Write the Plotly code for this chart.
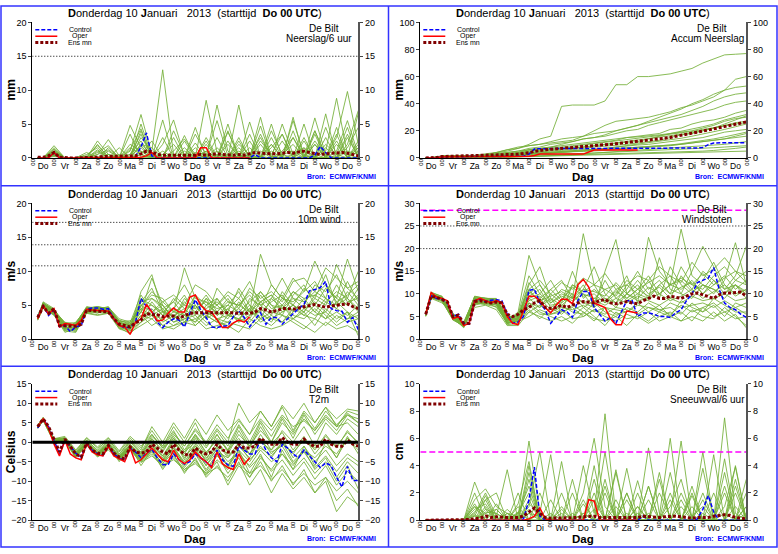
import plotly.graph_objects as go

W, H = 778, 554
FONT = "Liberation Sans, Arial, sans-serif"

day_names = ["Do", "Vr", "Za", "Zo", "Ma", "Di", "Wo", "Do", "Vr", "Za", "Zo", "Ma", "Di", "Wo", "Do"]
run_title = "<b>D</b>onderdag 10 <b>J</b>anuari   2013  (starttijd  <b>Do 00 UTC</b>)"
station = "De Bilt"
source = "Bron:  ECMWF/KNMI"
legend_names = ["Control", "Oper", "Ens mn"]

# lead time in days: 6-hourly for control / mean, oper up to day 10, members 12-hourly
lead_6h = [0.25 * (i + 1) for i in range(60)]
lead_oper = lead_6h[:40]
lead_members = [0.25] + [0.5 * (i + 1) for i in range(30)]

# ---------------- Neerslag / 6 uur (mm)
precip_control = [0, 0, 0, 0.8, 0, 0, 0, 0, 0, 0, 0, 0, 0, 0, 0, 0, 0, 0, 0.2, 1.6,
                  3.7, 0.3, 0, 0, 0, 0, 0, 0, 0, 0, 0, 0, 0, 0, 0, 0, 0, 0, 0, 0,
                  0.5, 0, 0, 0, 0, 0, 0, 0, 0, 0, 0, 0.4, 1.7, 0.8, 0, 0, 0, 0, 0, 0]
precip_oper = [0, 0, 0, 0.8, 0, 0, 0, 0, 0, 0, 0, 0, 0, 0, 0, 0, 0, 0, 0, 0.1,
               0.3, 0.8, 0, 0, 0, 0, 0, 0, 0, 0, 1.5, 1.5, 0, 0, 0, 0, 0, 0, 0, 0]
precip_mean = [0.1, 0.1, 0.3, 0.8, 0.1, 0, 0, 0, 0, 0, 0, 0.1, 0.2, 0.2, 0.3, 0.2,
               0.2, 0.2, 0.3, 0.6, 1.0, 0.9, 0.5, 0.4, 0.4, 0.3, 0.4, 0.4, 0.3, 0.4, 0.5, 0.4,
               0.5, 0.6, 0.5, 0.4, 0.4, 0.5, 0.4, 0.6, 0.8, 0.7, 0.6, 0.6, 0.6, 0.7, 0.8, 0.7,
               0.9, 1.0, 0.8, 0.6, 0.5, 0.6, 0.7, 0.8, 0.8, 0.7, 0.5, 0.3]
precip_members = [
    [0, 0, 1.8, 0, 0, 0, 2.5, 0.5, 0, 1.0, 6.4, 0.5, 0, 0, 1.5, 0, 3.0, 0.2, 0, 2.0, 0.5, 0, 4.0, 0.5, 1.0, 0, 2.5, 0.3, 3.0, 9.8, 2.0],
    [0, 0, 1.2, 0, 0, 0, 0.5, 2.7, 0.3, 0, 3.0, 1.0, 13.0, 0.5, 0, 0, 0, 1.5, 0, 0, 0.5, 3.0, 0.2, 0, 5.5, 0.5, 0, 1.0, 8.8, 0.5, 0],
    [0, 0, 0.6, 0, 0, 0.3, 1.8, 0.2, 0, 4.8, 1.5, 0, 2.0, 5.6, 0.2, 0, 8.5, 0.8, 0, 0.3, 0, 2.5, 0.5, 3.5, 0, 0, 4.0, 0.5, 0, 0, 6.6],
    [0, 0, 0.9, 0, 0, 0, 0, 1.5, 0, 0.5, 2.5, 0, 0, 1.0, 2.8, 0.5, 0, 7.8, 1.0, 0, 5.3, 0.2, 0, 0, 3.0, 0.3, 0, 2.0, 0.5, 4.5, 0],
    [0, 0, 0.3, 0, 0, 0, 1.0, 0, 0, 0, 5.0, 0.3, 0, 0, 0, 3.5, 0.5, 0, 0, 7.8, 0.3, 0, 1.0, 0, 6.0, 0, 3.5, 0, 0, 1.0, 0.5],
    [0, 0, 0.5, 0, 0, 0, 0, 0, 1.5, 0, 0.5, 0, 0, 4.0, 0.5, 0, 1.0, 0, 3.8, 0.5, 0, 0, 0, 5.0, 0.5, 1.5, 0, 0, 0, 2.0, 7.0],
    [0, 0, 1.0, 0, 0, 0.2, 0, 0.5, 0, 1.2, 4.3, 0, 0, 0.5, 0, 0, 0.3, 5.5, 0.3, 0, 0, 4.7, 0, 0, 0.5, 0, 5.9, 0.5, 0, 3.0, 0.2],
    [0, 0, 0.4, 0, 0, 0, 0, 0, 0, 0, 0.5, 2.5, 0, 0, 3.3, 0, 0, 0, 2.0, 0.3, 0, 0, 3.0, 0, 0, 5.0, 0, 0, 2.0, 0, 1.5],
    [0, 0, 0.7, 0, 0, 0, 0.5, 1.2, 0, 0, 1.0, 0, 5.6, 0, 0, 0.8, 0, 0, 5.0, 0, 0, 0.2, 2.0, 0, 0, 0, 0, 4.5, 0.5, 0, 0],
    [0, 0, 0.2, 0, 0, 0, 0, 0, 0, 3.5, 0, 0, 0, 0, 0, 2.2, 0, 0, 0, 1.0, 0, 6.0, 0, 0.5, 0, 2.5, 0, 0, 1.0, 5.5, 0.5],
    [0, 0, 0.5, 0, 0, 0, 0, 0, 0.3, 0, 0, 0, 0.5, 0, 0, 0, 0, 0.5, 0, 0, 1.5, 0, 0, 0, 0, 0, 0.5, 0, 0, 0, 0],
    [0, 0, 0.8, 0, 0, 0, 1.2, 0, 0, 0, 2.0, 0.5, 0, 0, 0, 0, 0, 0, 0, 3.0, 0, 0, 0, 0.5, 2.0, 0, 0, 6.5, 0, 0, 2.0],
    [0, 0, 1.5, 0, 0, 0.5, 1.5, 0, 0, 2.0, 1.0, 0, 3.0, 0, 2.5, 0, 1.0, 0, 4.0, 0, 2.5, 0, 1.5, 3.5, 0, 1.0, 0, 3.0, 0, 1.5, 4.5],
    [0, 0, 1.0, 0, 0, 0, 0.8, 1.8, 0, 0.5, 3.5, 0, 0.5, 2.0, 0, 4.5, 0, 1.0, 0, 2.5, 0, 3.5, 0, 0, 4.0, 0, 2.0, 0, 4.5, 0, 2.5],
    [0, 0, 0.6, 0, 0, 0.2, 0, 0, 0.5, 0, 2.0, 1.5, 0, 0, 1.0, 0, 2.5, 0, 0.5, 0, 3.5, 0, 2.0, 0, 0, 3.0, 0, 1.5, 0, 3.5, 0],
    [0, 0, 1.3, 0, 0, 0, 2.0, 0, 0, 0, 4.0, 0, 0, 0, 0, 0, 0, 3.0, 0, 0, 0, 1.0, 0, 2.5, 0, 0, 2.0, 0, 0, 0, 1.0],
    [0, 0, 0.4, 0, 0, 0.8, 0, 0.5, 0, 1.5, 0.5, 0, 1.0, 0, 0, 1.5, 0, 0, 2.5, 0, 0, 2.0, 0, 1.0, 3.0, 0, 4.0, 0, 2.5, 0, 0],
    [0, 0, 0.9, 0, 0, 0, 0, 1.0, 0, 0, 1.8, 0, 0, 3.0, 0, 0, 2.0, 0, 0, 1.5, 0, 0, 5.0, 0, 0, 1.5, 0, 0, 3.5, 0, 1.5],
]

# ---------------- Accum Neerslag (mm)
accum_control = [0, 0, 0, 0.8, 0.9, 0.9, 0.9, 0.9, 0.9, 0.9, 1.0, 1.0, 1.0, 1.0, 1.0, 1.0,
                 1.0, 1.0, 1.2, 2.8, 6.5, 6.8, 6.8, 6.8, 6.8, 6.8, 6.8, 6.8, 6.8, 6.8, 6.8, 6.8,
                 6.8, 6.8, 6.8, 6.8, 6.8, 6.8, 6.8, 6.8, 7.3, 7.3, 7.3, 7.3, 7.3, 7.3, 7.3, 7.3,
                 7.3, 7.3, 7.3, 7.7, 9.8, 11.0, 11.2, 11.2, 11.2, 11.2, 11.2, 11.2]
accum_oper = [0, 0, 0, 0.8, 0.9, 0.9, 0.9, 0.9, 1.0, 1.0, 1.0, 1.0, 1.0, 1.0, 1.0, 1.1,
              1.1, 1.1, 1.1, 1.2, 1.8, 2.8, 2.8, 2.8, 2.8, 2.8, 2.8, 2.8, 2.8, 2.8, 4.3, 5.8,
              5.8, 5.8, 5.8, 5.8, 5.8, 5.8, 5.8, 5.8]
accum_mean = [0, 0.1, 0.3, 1.0, 1.1, 1.1, 1.1, 1.2, 1.3, 1.4, 1.5, 1.6, 1.8, 2.0, 2.2, 2.4,
              2.6, 2.8, 3.2, 3.8, 4.8, 5.6, 6.0, 6.3, 6.6, 6.9, 7.2, 7.5, 7.8, 8.1, 8.5, 8.9,
              9.3, 9.7, 10.1, 10.5, 10.9, 11.3, 11.7, 12.0, 12.4, 12.9, 13.4, 13.9, 14.5, 15.1, 15.8, 16.5,
              17.3, 18.1, 19.0, 19.8, 20.6, 21.4, 22.2, 23.0, 23.8, 24.6, 25.4, 26.5]
accum_members = [
    [0, 0, 1.5, 1.5, 1.6, 1.8, 2.5, 3.5, 5, 7, 10, 14, 16, 38, 39, 39, 39, 42, 54, 54, 60, 60, 61, 62, 64, 66, 70, 73, 76, 76.5, 77],
    [0, 0, 1, 1, 1, 1.2, 2, 4, 6, 8, 9, 10, 11, 12, 13, 16, 20, 24, 27, 28, 29, 30, 32, 34, 37, 39, 42, 45, 50, 58, 60],
    [0, 0, 1.2, 1.2, 1.3, 1.5, 3, 4, 6, 7, 9, 10, 12, 14, 15, 16, 18, 19, 20, 22, 24, 27, 30, 33, 36, 40, 43, 47, 50, 52, 53],
    [0, 0, 0.8, 0.8, 0.8, 1, 1.5, 2, 3, 4, 6, 7, 8, 10, 12, 14, 15, 17, 20, 22, 24, 26, 28, 30, 32, 35, 38, 42, 45, 47, 48],
    [0, 0, 1.5, 1.5, 1.5, 1.5, 2, 3, 4, 5, 7, 8, 10, 11, 12, 14, 15, 16, 18, 20, 21, 24, 26, 28, 30, 32, 34, 36, 39, 41, 42],
    [0, 0, 1, 1, 1, 1.2, 1.5, 2.5, 3, 4, 6, 6.5, 7, 8, 9, 10, 11, 12, 13, 15, 16, 17, 18, 21, 22, 25, 27, 28, 30, 33, 35],
    [0, 0, 0.5, 0.5, 0.5, 0.6, 0.8, 1.2, 2, 3, 5, 5.5, 6, 6.5, 7, 8, 9, 10, 11, 11.5, 12, 14, 16, 18, 19, 20, 22, 24, 27, 29, 30],
    [0, 0, 1, 1, 1, 1, 1.3, 1.8, 2.5, 3, 4, 4.5, 5, 5.5, 6, 7, 8, 8.5, 9, 10, 11, 12, 13, 15, 17, 18, 20, 22, 24, 26, 27],
    [0, 0, 0.5, 0.5, 0.5, 0.5, 0.7, 1, 1.5, 2, 3, 3.5, 4, 4.5, 5, 5.5, 6, 7, 8, 9, 9.5, 10, 11, 12, 13, 14, 15, 17, 19, 20, 21],
    [0, 0, 0.8, 0.8, 0.8, 0.8, 1, 1.2, 1.5, 2, 2.5, 3, 3.5, 4, 4.5, 5, 5.5, 6, 6.5, 7, 7.5, 8, 8.5, 9, 10, 11, 12, 13, 14, 15, 16],
    [0, 0, 0.3, 0.3, 0.3, 0.3, 0.4, 0.5, 0.6, 0.8, 1, 1.2, 1.5, 2, 2.5, 3, 3.5, 4, 4.5, 5, 5.5, 6, 6.5, 7, 7.5, 8, 8.5, 9, 10, 11, 12],
    [0, 0, 0.4, 0.4, 0.4, 0.4, 0.5, 0.6, 0.8, 1, 1.5, 1.8, 2, 2.2, 2.4, 2.6, 2.8, 3, 3.2, 3.4, 3.6, 3.8, 4, 4.2, 4.4, 4.6, 5, 5.5, 6, 7, 8],
    [0, 0, 0.6, 0.6, 0.6, 0.7, 1.0, 1.5, 2.0, 2.5, 3.5, 4.0, 4.5, 5.0, 5.5, 6.0, 6.5, 7.0, 8.0, 9.0, 10.0, 11.0, 12.0, 13.0, 14.5, 16.0, 17.5, 19.0, 21.0, 23.0, 25.0],
    [0, 0, 0.9, 0.9, 0.9, 1.0, 1.2, 1.6, 2.2, 2.8, 4.0, 4.8, 5.5, 6.0, 7.0, 8.0, 9.0, 10.0, 11.0, 12.0, 13.0, 14.0, 15.0, 16.0, 17.0, 18.5, 20.0, 22.0, 25.0, 28.0, 31.0],
    [0, 0, 0.4, 0.4, 0.4, 0.5, 0.6, 0.8, 1.0, 1.3, 2.0, 2.2, 2.5, 2.8, 3.0, 3.3, 3.6, 4.0, 4.3, 4.6, 5.0, 5.3, 5.6, 6.0, 6.3, 6.6, 7.0, 7.5, 8.0, 8.5, 9.0],
    [0, 0, 1.1, 1.1, 1.1, 1.2, 1.5, 2.0, 2.8, 3.5, 5.0, 5.8, 6.5, 7.0, 8.0, 9.5, 10.5, 11.5, 12.5, 13.5, 14.5, 15.0, 16.0, 17.5, 18.5, 19.5, 21.0, 22.0, 23.5, 25.0, 26.0],
    [0, 0, 0.7, 0.7, 0.7, 0.8, 0.9, 1.2, 1.6, 2.0, 3.0, 3.5, 4.0, 4.2, 4.5, 4.8, 5.0, 5.5, 6.0, 6.5, 7.0, 7.5, 8.0, 9.0, 10.0, 11.0, 12.0, 13.0, 14.0, 16.0, 18.0],
    [0, 0, 0.2, 0.2, 0.2, 0.2, 0.3, 0.4, 0.5, 0.7, 1.0, 1.2, 1.4, 1.6, 1.8, 2.0, 2.2, 2.4, 2.6, 2.8, 3.0, 3.2, 3.4, 3.6, 3.8, 4.0, 4.2, 4.4, 4.6, 4.8, 5.0],
    [0, 0, 1.3, 1.3, 1.3, 1.4, 2.0, 3.0, 4.0, 5.0, 6.5, 7.5, 8.5, 9.5, 10.5, 11.5, 12.5, 13.5, 14.5, 15.0, 15.5, 16.0, 17.0, 18.0, 19.5, 21.0, 23.0, 25.0, 28.0, 30.0, 32.0],
    [0, 0, 0.5, 0.5, 0.5, 0.6, 0.8, 1.0, 1.3, 1.8, 2.5, 3.0, 3.5, 4.0, 4.5, 5.0, 5.5, 6.0, 6.5, 7.0, 7.5, 8.0, 8.5, 9.5, 10.5, 11.5, 12.5, 14.0, 15.5, 17.0, 19.0],
]

# ---------------- 10m wind (m/s)
wind_control = [3.2, 5.0, 3.5, 4.3, 1.8, 2.0, 1.1, 1.8, 2.0, 4.4, 4.6, 4.6, 4.4, 4.5, 3.0, 2.0,
                1.7, 1.7, 2.5, 6.0, 4.8, 4.2, 2.5, 1.7, 2.5, 3.0, 2.8, 1.8, 3.8, 5.8, 4.3, 3.2,
                1.8, 1.7, 1.9, 2.0, 3.3, 4.2, 3.2, 1.8, 2.9, 3.9, 2.2, 3.2, 3.2, 2.2, 3.0, 3.8,
                4.5, 5.1, 7.1, 7.3, 7.6, 8.5, 4.5, 4.2, 4.1, 2.5, 3.2, 1.4]
wind_oper = [3.0, 5.0, 3.7, 4.5, 1.8, 2.3, 2.2, 2.0, 2.8, 4.4, 4.3, 4.2, 4.1, 4.1, 3.0, 2.0,
             1.8, 0.7, 2.5, 3.0, 5.1, 4.0, 2.7, 2.8, 3.8, 4.6, 4.0, 4.0, 6.2, 6.5, 5.0, 4.2,
             4.0, 2.8, 1.7, 1.7, 2.4, 2.8, 2.5, 3.3]
wind_mean = [3.2, 4.8, 3.8, 4.5, 2.0, 2.0, 1.9, 1.9, 2.2, 4.3, 4.2, 4.1, 4.0, 4.0, 3.0, 2.2,
             2.0, 1.8, 2.4, 2.8, 3.8, 3.6, 3.6, 3.3, 3.4, 3.4, 3.1, 3.5, 3.8, 3.9, 3.9, 4.0,
             4.0, 3.9, 4.0, 3.9, 3.9, 3.8, 3.8, 3.8, 4.0, 4.5, 4.3, 4.0, 4.2, 4.5, 4.5, 4.4,
             4.6, 4.8, 5.0, 5.1, 4.9, 4.7, 4.9, 5.0, 5.0, 5.2, 4.8, 4.5]
wind_members = [
    [3.0, 5.5, 4.5, 1.5, 2.5, 4.5, 4.8, 4.5, 2.5, 2.0, 4.0, 9.0, 5.0, 3.0, 5.5, 4.0, 6.0, 3.5, 5.0, 7.0, 4.0, 12.5, 8.0, 6.0, 9.0, 7.0, 11.5, 8.0, 6.0, 11.8, 7.0],
    [3.3, 5.0, 4.0, 2.0, 2.0, 4.2, 4.0, 4.2, 2.0, 1.5, 7.0, 9.5, 4.0, 5.5, 8.0, 5.0, 3.0, 6.0, 4.0, 2.5, 6.0, 5.0, 3.5, 7.0, 5.0, 4.0, 6.0, 9.5, 5.0, 6.0, 10.0],
    [2.8, 4.8, 3.8, 1.2, 1.0, 4.0, 4.3, 4.0, 1.8, 1.2, 3.0, 4.5, 2.5, 3.5, 2.0, 6.5, 4.0, 3.0, 1.5, 3.0, 2.5, 4.5, 3.0, 2.5, 4.0, 6.0, 4.0, 3.0, 5.5, 4.0, 0.5],
    [3.5, 5.2, 4.3, 2.2, 2.2, 4.8, 4.5, 4.7, 3.0, 2.5, 5.0, 6.5, 6.0, 4.0, 5.0, 8.0, 7.0, 5.0, 6.5, 4.5, 7.5, 6.0, 7.0, 5.5, 8.5, 9.0, 7.0, 10.5, 9.0, 7.5, 8.5],
    [3.1, 4.6, 3.5, 1.8, 1.5, 3.8, 3.5, 3.8, 1.5, 1.0, 2.0, 3.0, 1.5, 2.0, 2.5, 3.0, 1.5, 2.0, 2.5, 2.0, 1.5, 3.0, 2.0, 3.5, 2.5, 1.5, 3.0, 2.0, 3.5, 2.5, 3.0],
    [3.2, 5.1, 4.2, 2.5, 2.0, 4.6, 4.8, 4.4, 2.2, 1.8, 6.0, 5.0, 3.5, 6.0, 4.5, 5.0, 3.0, 7.5, 5.5, 5.0, 4.0, 5.5, 6.5, 4.0, 5.0, 7.5, 6.0, 5.0, 8.0, 5.5, 6.0],
    [2.9, 4.7, 3.6, 1.0, 1.6, 4.3, 3.8, 4.6, 2.8, 2.2, 4.5, 3.5, 4.5, 2.5, 3.5, 2.5, 5.0, 4.0, 3.0, 5.5, 3.5, 6.5, 4.5, 5.0, 3.0, 4.0, 2.0, 4.5, 3.0, 4.0, 2.0],
    [3.4, 5.3, 4.4, 2.3, 1.8, 4.4, 4.1, 4.3, 2.0, 1.6, 5.5, 7.5, 4.0, 4.5, 6.5, 3.5, 6.0, 5.0, 7.0, 6.0, 8.5, 5.0, 6.0, 9.0, 6.0, 5.5, 7.0, 6.0, 4.5, 7.0, 5.0],
    [3.0, 4.9, 3.9, 1.4, 1.3, 4.1, 4.6, 4.1, 1.6, 1.4, 3.5, 2.0, 3.0, 2.0, 3.0, 4.0, 2.5, 1.5, 3.5, 3.0, 4.5, 2.5, 3.5, 2.5, 4.5, 3.5, 5.0, 3.5, 2.0, 3.0, 3.5],
    [3.3, 5.4, 4.1, 2.4, 2.4, 4.7, 4.4, 4.8, 2.6, 2.7, 4.0, 6.0, 5.0, 3.0, 4.0, 5.5, 4.5, 5.5, 4.0, 7.5, 5.0, 4.0, 5.5, 6.5, 4.0, 5.0, 8.0, 7.0, 9.5, 6.0, 4.5],
    [2.9, 4.6, 3.7, 1.6, 1.1, 3.9, 3.6, 3.9, 1.7, 0.8, 2.5, 3.5, 2.0, 1.5, 2.5, 2.0, 3.5, 2.5, 2.0, 1.0, 3.0, 2.0, 1.5, 2.0, 3.0, 2.0, 1.0, 2.5, 1.5, 2.0, 1.0],
    [3.2, 5.0, 4.0, 2.1, 1.9, 4.5, 4.7, 4.5, 2.4, 2.0, 5.0, 4.0, 5.5, 4.0, 10.5, 6.0, 5.5, 4.5, 5.0, 4.0, 5.5, 7.0, 5.0, 4.5, 6.0, 4.5, 5.5, 4.0, 6.5, 5.0, 7.5],
    [3.1, 5.2, 4.1, 2.0, 2.1, 4.4, 4.3, 4.3, 2.1, 1.7, 4.5, 5.0, 4.0, 3.5, 4.5, 3.0, 4.0, 5.0, 3.5, 4.5, 3.0, 5.5, 4.0, 6.0, 5.0, 4.0, 6.5, 5.5, 7.0, 6.0, 4.0],
    [3.0, 4.9, 3.8, 1.5, 1.7, 4.2, 4.5, 4.2, 2.3, 2.1, 3.0, 5.5, 3.5, 4.5, 2.5, 5.0, 3.0, 4.0, 6.0, 3.5, 5.0, 3.0, 6.0, 4.5, 7.0, 5.5, 4.0, 6.0, 5.0, 8.5, 5.5],
    [3.3, 5.1, 4.2, 1.9, 2.3, 4.6, 4.2, 4.6, 2.7, 2.4, 6.5, 4.0, 5.0, 3.0, 6.0, 4.5, 5.5, 3.5, 4.5, 6.0, 4.0, 7.0, 5.0, 3.5, 6.5, 8.0, 5.0, 7.5, 6.0, 5.0, 6.5],
    [2.8, 4.7, 3.6, 1.3, 1.4, 3.9, 4.0, 3.9, 1.9, 1.3, 2.5, 4.0, 2.0, 3.0, 4.0, 2.0, 3.5, 2.5, 4.5, 2.5, 3.5, 4.0, 2.5, 5.0, 3.5, 3.0, 4.5, 3.0, 4.0, 3.0, 4.0],
    [3.2, 5.3, 4.3, 2.2, 2.1, 4.5, 4.6, 4.4, 2.4, 1.9, 5.5, 6.0, 4.5, 5.5, 3.5, 6.5, 5.0, 6.0, 3.5, 5.0, 6.5, 4.5, 8.0, 6.0, 5.5, 7.0, 8.5, 6.0, 11.0, 7.5, 6.0],
    [3.0, 4.8, 3.9, 1.7, 1.8, 4.3, 4.1, 4.2, 2.2, 1.5, 3.5, 3.0, 4.0, 2.5, 3.0, 3.5, 2.0, 3.0, 2.5, 4.0, 2.0, 3.5, 3.0, 4.0, 5.0, 3.5, 3.0, 5.5, 4.5, 3.5, 5.0],
    [3.4, 5.0, 4.1, 2.0, 2.0, 4.6, 4.4, 4.5, 2.5, 2.2, 4.8, 7.0, 5.5, 6.5, 5.0, 4.5, 6.5, 4.0, 5.5, 5.0, 7.0, 5.5, 6.5, 5.0, 7.0, 6.0, 6.5, 8.0, 5.5, 6.5, 8.0],
    [3.1, 4.9, 4.0, 1.8, 1.6, 4.1, 4.0, 4.1, 2.0, 1.6, 4.0, 3.5, 3.0, 4.0, 3.5, 2.5, 4.0, 3.0, 3.5, 3.0, 4.5, 3.0, 4.0, 3.5, 3.0, 4.5, 3.5, 4.0, 2.5, 4.0, 3.0],
]

# ---------------- Windstoten (m/s)
gust_control = [5.5, 9.6, 9.0, 8.8, 8.0, 5.0, 5.5, 3.5, 3.3, 8.5, 8.8, 8.3, 8.6, 8.7, 8.5, 5.5,
                3.5, 3.8, 5.0, 10.8, 11.0, 8.0, 6.5, 3.5, 5.0, 6.5, 6.0, 4.8, 8.5, 10.5, 10.5, 7.0,
                5.5, 4.0, 4.8, 3.5, 6.0, 8.5, 8.5, 5.0, 5.8, 5.8, 5.5, 5.0, 5.0, 4.8, 5.8, 6.5,
                8.5, 10.0, 12.5, 13.0, 13.5, 15.8, 11.0, 8.0, 7.0, 6.5, 5.5, 4.8]
gust_oper = [5.5, 10.3, 9.3, 9.0, 8.5, 4.5, 5.0, 3.0, 3.5, 8.5, 9.0, 8.5, 8.0, 8.5, 8.0, 5.0,
             3.5, 3.2, 6.5, 9.5, 9.5, 8.5, 7.0, 5.8, 7.5, 8.8, 8.8, 7.8, 12.0, 13.2, 11.5, 8.0,
             7.5, 7.0, 4.5, 3.2, 3.2, 6.2, 6.0, 5.8]
gust_mean = [5.5, 9.5, 9.2, 8.8, 8.2, 5.0, 5.3, 3.5, 3.5, 8.3, 8.5, 8.2, 8.0, 8.2, 8.0, 5.5,
             5.0, 5.5, 6.5, 7.0, 8.0, 8.5, 7.0, 6.8, 7.0, 7.5, 7.0, 7.5, 8.0, 8.3, 8.2, 8.0,
             8.5, 8.8, 8.0, 7.8, 8.0, 8.3, 8.0, 7.8, 8.5, 9.0, 9.5, 9.0, 9.0, 9.5, 9.3, 9.0,
             9.5, 10.0, 10.2, 9.8, 9.3, 9.0, 9.8, 10.2, 10.2, 10.3, 10.4, 9.5]
gust_members = [
    [5.5, 10.0, 9.0, 5.0, 3.0, 9.0, 8.5, 8.0, 4.0, 6.0, 18.5, 12.0, 8.0, 10.0, 9.0, 23.3, 12.0, 8.0, 10.0, 14.0, 8.0, 22.5, 15.0, 12.0, 24.3, 14.0, 12.0, 10.0, 13.0, 21.3, 12.0],
    [5.0, 9.5, 8.5, 4.5, 2.8, 8.0, 8.0, 7.5, 3.5, 4.5, 12.0, 16.0, 9.0, 6.0, 12.0, 10.0, 7.0, 15.0, 22.0, 10.0, 12.0, 9.0, 18.0, 11.0, 10.0, 15.0, 20.5, 16.0, 11.0, 14.0, 20.5],
    [6.0, 9.0, 8.0, 5.5, 3.5, 7.0, 7.5, 6.5, 3.0, 3.0, 6.0, 5.0, 4.0, 5.0, 3.5, 6.0, 4.5, 4.0, 5.0, 3.0, 5.5, 4.0, 6.0, 5.0, 4.0, 6.5, 5.0, 4.5, 7.0, 5.0, 3.0],
    [5.8, 9.8, 9.2, 5.2, 3.2, 9.5, 9.0, 9.0, 5.0, 5.0, 9.0, 7.0, 10.0, 8.0, 15.0, 9.0, 11.0, 9.0, 7.0, 10.0, 13.0, 10.0, 11.5, 9.0, 14.0, 11.0, 15.0, 13.0, 10.0, 12.0, 9.0],
    [5.2, 9.2, 8.8, 4.8, 2.5, 7.5, 8.2, 7.0, 3.8, 4.0, 7.0, 9.0, 6.5, 7.5, 6.0, 5.5, 8.0, 6.0, 5.0, 7.0, 6.0, 8.0, 6.5, 7.0, 5.5, 8.0, 6.0, 9.0, 7.5, 6.0, 6.0],
    [5.6, 10.2, 9.5, 5.5, 3.8, 9.2, 8.8, 8.8, 4.5, 5.5, 14.0, 10.0, 13.0, 9.0, 8.0, 11.0, 16.0, 10.0, 8.0, 12.0, 10.0, 13.0, 9.0, 16.0, 12.0, 10.0, 13.0, 17.0, 12.0, 10.0, 11.0],
    [5.4, 9.4, 8.6, 4.2, 3.0, 8.5, 8.0, 8.3, 3.2, 3.5, 8.0, 6.0, 5.0, 4.0, 5.0, 7.0, 5.0, 3.0, 6.0, 4.5, 5.0, 3.5, 5.0, 6.0, 4.0, 5.0, 4.0, 6.0, 4.0, 5.5, 2.5],
    [5.7, 9.7, 9.0, 5.8, 2.9, 8.8, 8.5, 8.5, 4.2, 4.8, 10.0, 12.0, 8.5, 11.0, 10.0, 8.0, 9.0, 11.0, 12.0, 9.0, 11.0, 14.0, 10.0, 12.0, 11.0, 13.0, 10.0, 12.0, 14.0, 11.0, 13.0],
    [5.3, 9.3, 8.9, 4.6, 3.4, 7.8, 7.8, 7.8, 3.6, 3.8, 6.5, 4.5, 7.0, 5.5, 7.5, 6.0, 4.0, 7.0, 5.5, 6.0, 8.0, 6.0, 7.5, 5.0, 8.5, 7.0, 6.0, 7.5, 5.0, 8.0, 7.0],
    [5.5, 10.4, 9.4, 5.4, 3.6, 9.3, 9.1, 8.6, 4.8, 5.2, 11.0, 8.0, 11.0, 13.0, 9.0, 12.0, 8.0, 13.0, 9.0, 11.0, 15.0, 11.0, 13.0, 10.0, 16.0, 12.0, 11.0, 14.0, 16.0, 13.0, 15.0],
    [5.1, 9.1, 8.3, 4.4, 2.7, 8.2, 7.6, 7.2, 3.4, 4.2, 7.5, 5.5, 5.5, 6.5, 4.5, 5.0, 6.5, 5.0, 4.0, 5.5, 4.5, 6.0, 4.0, 5.0, 6.0, 4.0, 7.0, 5.0, 6.0, 4.5, 5.0],
    [5.9, 9.9, 9.1, 5.1, 3.1, 8.6, 8.6, 8.2, 4.4, 4.6, 9.5, 11.0, 7.0, 8.5, 11.5, 9.5, 10.0, 8.0, 11.0, 8.5, 10.0, 9.0, 12.0, 14.0, 10.0, 9.0, 12.0, 11.0, 9.0, 12.0, 10.0],
    [5.5, 9.6, 9.0, 5.0, 3.2, 8.8, 8.5, 8.2, 4.2, 4.5, 9.0, 10.0, 8.0, 9.5, 8.5, 10.0, 9.0, 8.5, 10.5, 9.0, 11.0, 9.5, 12.0, 10.0, 11.5, 12.5, 10.0, 13.0, 11.0, 12.0, 10.5],
    [5.4, 9.5, 8.8, 4.9, 3.0, 8.5, 8.4, 8.0, 3.9, 4.3, 8.0, 7.0, 9.0, 7.5, 9.5, 8.0, 7.0, 9.0, 8.0, 10.0, 8.5, 9.0, 10.0, 8.5, 9.5, 11.0, 9.0, 10.5, 12.0, 9.5, 11.0],
    [5.6, 9.8, 9.1, 5.3, 3.3, 9.0, 8.8, 8.6, 4.6, 5.0, 12.5, 9.0, 11.0, 8.5, 12.0, 10.5, 12.0, 11.0, 9.5, 13.0, 11.0, 12.5, 14.0, 12.0, 13.5, 12.0, 14.5, 12.0, 13.5, 15.0, 12.5],
    [5.3, 9.4, 8.7, 4.7, 2.9, 8.2, 8.0, 7.9, 3.7, 4.0, 6.0, 7.5, 6.0, 7.0, 6.5, 7.5, 6.0, 7.0, 6.5, 6.0, 7.5, 7.0, 6.0, 8.0, 7.0, 7.5, 8.0, 7.0, 8.5, 7.0, 8.0],
    [5.7, 10.0, 9.3, 5.6, 3.5, 9.4, 9.0, 8.9, 4.9, 5.4, 11.0, 13.0, 10.0, 12.5, 11.0, 13.5, 12.0, 14.5, 11.0, 12.0, 14.0, 13.0, 16.0, 14.0, 12.5, 17.0, 14.0, 15.5, 18.0, 15.0, 14.0],
    [5.2, 9.2, 8.5, 4.5, 2.8, 7.9, 7.8, 7.6, 3.5, 3.9, 5.0, 6.5, 5.5, 6.0, 7.0, 5.0, 6.5, 5.5, 7.0, 6.5, 5.5, 7.0, 6.5, 5.5, 7.5, 6.0, 7.0, 8.0, 6.0, 7.0, 5.5],
    [5.5, 9.7, 9.0, 5.2, 3.3, 8.9, 8.6, 8.4, 4.3, 4.8, 10.5, 8.5, 9.5, 10.5, 9.0, 11.0, 10.5, 9.5, 12.5, 10.0, 9.0, 11.5, 10.0, 12.0, 13.0, 10.5, 12.0, 11.0, 10.0, 13.0, 12.0],
    [5.4, 9.4, 8.9, 4.9, 3.1, 8.4, 8.3, 8.1, 4.1, 4.4, 8.5, 9.5, 7.5, 8.0, 10.0, 7.0, 8.5, 7.5, 9.0, 8.0, 9.5, 8.5, 7.5, 9.0, 8.0, 9.5, 8.5, 9.0, 10.0, 8.5, 9.0],
]

# ---------------- T2m (Celsius)
temp_control = [3.7, 5.8, 4.0, 0.5, -3.0, 0.5, -1.0, -2.8, -3.8, -0.3, -2.0, -3.0, -3.4, -1.0, -3.0, -4.0,
                -4.8, -1.5, -2.5, -4.0, -3.0, -1.8, -4.0, -5.7, -5.8, -3.0, -4.5, -5.6, -5.0, -3.0, -4.0, -5.0,
                -6.2, -2.0, -4.5, -5.8, -6.2, -1.0, -2.0, -3.0, -3.0, 0.8, -2.0, -4.0, -5.0, -0.5, -1.5, -3.0,
                -4.0, -2.0, -3.5, -5.0, -6.5, -5.3, -6.0, -9.0, -11.5, -6.2, -9.8, -9.8]
temp_oper = [4.0, 6.0, 3.5, -0.5, -3.5, 0.5, -3.0, -4.0, -4.5, -0.3, -2.5, -3.2, -3.5, -1.0, -3.5, -4.2,
             -5.0, -1.5, -5.3, -4.5, -3.0, -1.5, -3.0, -4.5, -5.0, -2.0, -4.5, -5.5, -4.5, -2.5, -4.0, -5.0,
             -6.5, -2.5, -5.5, -6.5, -7.0, -3.0, -5.7, -4.0]
temp_mean = [4.0, 6.0, 4.0, 0.5, -2.5, 0.8, -1.0, -3.0, -3.8, -0.2, -2.0, -2.8, -3.0, -0.8, -2.8, -3.8,
             -4.3, -1.2, -2.5, -2.8, -2.5, -0.5, -1.5, -2.5, -3.0, -0.5, -2.0, -3.0, -3.5, -1.5, -2.5, -3.0,
             -2.5, -0.5, -2.0, -2.5, -2.5, -0.5, -1.5, -1.5, -1.0, 1.0, 0.0, -0.5, -0.5, 1.2, 0.0, -0.5,
             -0.5, 0.8, -0.5, -1.0, -1.0, 0.8, -0.5, -1.0, -1.0, 0.5, -0.5, -1.0]
temp_members = [
    [4.0, 6.0, 0.5, 1.0, -3.0, 0.0, -3.0, -0.5, -3.5, -1.0, -3.5, 1.0, -2.5, 2.0, -1.0, 3.0, -0.5, 3.5, 0.0, 10.0, 5.0, 8.0, 4.0, 9.0, 3.0, 8.0, 5.0, 9.0, 4.0, 8.0, 7.0],
    [3.5, 5.5, 0.0, 0.5, -3.5, -0.5, -3.5, -1.5, -4.0, -2.0, -4.5, -2.0, -5.5, -1.5, -6.0, -2.5, -7.0, -3.0, -8.0, -4.0, -9.0, -5.0, -10.0, -6.0, -11.0, -7.0, -13.0, -9.0, -15.0, -12.0, -16.5],
    [4.2, 6.2, 1.0, 0.8, -2.5, 0.5, -2.0, 1.0, -3.0, 0.5, -2.0, 4.0, 0.0, 5.0, 1.0, 6.0, 2.0, 7.0, 3.0, 6.0, 2.0, 8.0, 4.0, 9.5, 6.0, 10.0, 5.0, 9.0, 6.0, 8.5, 8.0],
    [3.8, 5.8, 0.3, 0.2, -4.0, -0.5, -3.2, -1.0, -5.0, -1.0, -6.0, -2.0, -7.0, -3.0, -8.0, -4.0, -9.0, -6.0, -10.0, -5.0, -11.0, -7.0, -13.0, -8.0, -12.0, -9.0, -13.0, -10.0, -17.8, -14.0, -16.0],
    [4.1, 6.1, 0.6, 0.7, -2.8, 0.2, -2.5, 0.0, -3.8, -0.5, -3.0, 1.5, -1.0, 3.0, -2.0, 2.0, -3.0, 1.0, -2.0, 4.0, -1.0, 5.0, 0.0, 6.0, 1.0, 7.0, 2.0, 6.0, 3.0, 7.0, 5.0],
    [3.6, 5.6, 0.2, 0.4, -3.8, -0.8, -3.8, -2.0, -4.5, -1.5, -5.0, -3.0, -6.5, -4.0, -7.5, -5.0, -8.0, -4.5, -7.0, -3.0, -6.0, -2.0, -5.0, -3.0, -7.0, -4.0, -8.0, -5.0, -10.0, -6.0, -12.0],
    [4.3, 6.3, 0.8, 1.2, -2.2, 1.0, -1.5, 0.5, -2.5, 1.0, -1.5, 3.0, -1.0, 4.0, 0.0, 5.0, -1.0, 2.0, -2.0, 1.0, -3.0, 0.0, -2.0, 3.0, 0.0, 4.0, -1.0, 5.0, 2.0, 6.0, 4.0],
    [3.9, 5.9, 0.4, 0.6, -3.3, 0.0, -2.8, -1.0, -4.2, -1.5, -4.0, -1.0, -4.5, 0.0, -3.5, -1.0, -5.0, -2.0, -6.0, -1.0, -4.0, 1.0, -3.0, 0.0, -5.0, -2.0, -7.0, -4.0, -9.0, -5.0, -8.0],
    [4.0, 6.0, 0.5, 0.9, -3.1, 0.3, -2.6, -0.5, -3.9, -0.8, -3.2, 0.5, -3.5, 1.0, -4.0, -0.5, -5.0, -1.0, -6.5, -2.0, -8.0, -3.0, -9.0, -2.0, -7.0, -1.0, -6.0, 0.0, -4.0, 1.0, -2.0],
    [3.7, 5.7, 0.1, 0.3, -3.6, -0.3, -3.4, -1.2, -4.4, -1.8, -4.8, -2.5, -6.0, -3.5, -7.0, -4.5, -8.5, -5.0, -11.0, -6.0, -9.0, -4.0, -7.0, -3.0, -6.0, -2.0, -4.0, -1.0, -3.0, 1.0, -1.0],
    [4.4, 6.4, 0.9, 1.5, -2.0, 1.2, -1.2, 1.2, -2.2, 1.5, -1.0, 2.0, -1.5, 1.0, -2.5, 0.0, -4.0, -1.0, -3.0, 2.0, -1.0, 3.0, 0.0, 5.0, 2.0, 6.0, 3.0, 7.0, 4.0, 5.0, 2.0],
    [3.8, 5.8, 0.3, 0.5, -3.4, -0.2, -3.0, -0.8, -4.0, -1.2, -3.8, -0.5, -5.0, -2.0, -5.5, -1.5, -6.0, -2.5, -4.0, 0.0, -3.0, 2.0, -2.0, 1.0, -4.0, -1.0, -5.0, -2.0, -6.0, -3.0, -5.0],
    [3.9, 5.9, 0.4, 0.8, -3.0, 0.2, -2.7, -0.3, -3.6, 0.0, -2.5, 2.0, -1.5, 2.5, -1.0, 3.5, 0.0, 4.5, 1.0, 5.5, 2.0, 6.0, 3.0, 7.0, 4.0, 5.5, 3.0, 6.5, 4.0, 7.5, 5.0],
    [4.0, 6.0, 0.5, 0.6, -3.2, -0.1, -3.1, -0.9, -4.1, -1.3, -4.2, -1.5, -4.8, -1.0, -5.5, -2.0, -6.0, -1.5, -5.0, -2.5, -6.5, -3.5, -7.5, -4.5, -8.5, -5.0, -9.5, -6.0, -11.0, -7.5, -10.0],
    [3.8, 5.8, 0.3, 0.9, -3.3, 0.1, -2.9, -0.6, -3.8, -0.6, -3.6, 0.0, -4.0, 0.5, -4.5, 1.0, -3.5, 2.0, -2.5, 3.0, -1.5, 4.0, -0.5, 2.5, -2.0, 1.5, -3.0, 0.5, -4.0, 1.5, -3.0],
    [4.1, 6.1, 0.6, 0.5, -3.5, -0.4, -3.3, -1.1, -4.3, -1.6, -4.6, -2.2, -5.5, -2.5, -6.5, -3.0, -7.5, -3.5, -6.0, -2.0, -5.0, -1.0, -4.0, 0.0, -3.0, 1.0, -2.0, 2.0, -1.5, 3.0, -0.5],
    [4.2, 6.2, 0.7, 1.1, -2.6, 0.6, -2.2, 0.3, -3.2, 0.3, -2.8, 0.8, -2.0, 1.5, -2.5, 2.0, -1.5, 3.0, -1.0, 4.5, 0.0, 5.5, 1.5, 6.5, 2.5, 7.5, 3.5, 8.0, 4.5, 7.0, 6.0],
    [3.7, 5.7, 0.2, 0.3, -3.7, -0.6, -3.6, -1.5, -4.6, -2.0, -5.2, -3.5, -6.0, -4.5, -7.0, -5.5, -8.0, -6.5, -9.0, -5.5, -8.0, -6.0, -9.5, -7.0, -10.5, -8.0, -11.0, -9.0, -12.5, -10.0, -13.0],
    [4.0, 6.0, 0.5, 0.7, -3.1, 0.1, -2.8, -0.7, -3.9, -1.0, -3.9, -0.8, -3.5, 0.3, -3.0, 1.5, -2.5, 0.5, -3.5, -0.5, -4.5, -1.5, -3.5, -0.5, -2.5, 0.5, -1.5, 1.5, -1.0, 2.5, 0.0],
    [3.9, 5.9, 0.4, 0.4, -3.4, -0.3, -3.1, -1.0, -4.0, -1.4, -4.4, -1.8, -4.5, -1.5, -5.0, -1.0, -4.5, 0.0, -4.0, -1.0, -3.0, 0.5, -2.5, -1.0, -5.5, -2.5, -6.5, -3.5, -7.5, -4.0, -6.0],
]

# ---------------- Sneeuwval / 6 uur (cm)
snow_control = [0, 0, 0, 0, 0, 0, 0, 0, 0, 0, 0, 0, 0, 0, 0, 0, 0, 0, 0.1, 1.5,
                3.9, 0.3, 0, 0, 0, 0, 0, 0, 0, 0, 0, 0, 0, 0, 0, 0, 0, 0, 0, 0,
                0.3, 0, 0, 0, 0, 0, 0, 0, 0, 0, 0.1, 0.8, 1.8, 0.6, 0, 0, 0, 0, 0, 0]
snow_oper = [0, 0, 0, 0, 0, 0, 0, 0, 0, 0, 0, 0, 0, 0, 0, 0, 0, 0, 0, 0.1,
             0.3, 0.9, 0.1, 0, 0, 0, 0, 0, 0, 0, 1.5, 1.4, 0, 0, 0, 0, 0, 0, 0, 0]
snow_mean = [0, 0, 0, 0, 0, 0.02, 0.03, 0.05, 0.05, 0.1, 0.15, 0.3, 0.2, 0.25, 0.2, 0.2,
             0.2, 0.2, 0.3, 0.6, 0.9, 0.5, 0.2, 0.15, 0.15, 0.2, 0.2, 0.2, 0.2, 0.25, 0.3, 0.3,
             0.2, 0.2, 0.15, 0.2, 0.2, 0.15, 0.15, 0.2, 0.3, 0.25, 0.2, 0.2, 0.25, 0.3, 0.3, 0.25,
             0.2, 0.15, 0.2, 0.2, 0.2, 0.3, 0.35, 0.4, 0.35, 0.2, 0.15, 0.1]
snow_members = [
    [0, 0, 0, 0, 0, 1.5, 2.3, 1.0, 0.5, 0.3, 5.8, 0.5, 0, 0.5, 0, 2.0, 6.0, 1.0, 0, 0.5, 0, 5.3, 0.5, 0, 2.0, 0.3, 1.0, 0, 7.5, 0.5, 0],
    [0, 0, 0, 0, 0, 0.5, 2.0, 0.3, 3.7, 0, 1.0, 5.0, 0, 0, 0, 4.0, 0.5, 7.8, 0.3, 0, 1.0, 0, 0.3, 6.0, 0, 0, 5.0, 0, 1.0, 3.9, 0],
    [0, 0, 0, 0, 0, 2.8, 0.8, 0.5, 0, 1.2, 4.3, 0, 0, 4.3, 0, 0, 3.0, 0, 0, 3.8, 0, 0, 2.0, 0.3, 5.8, 0, 0.5, 0, 2.5, 0, 1.0],
    [0, 0, 0, 0, 0, 0, 1.5, 2.0, 0, 0.5, 2.0, 0, 0, 0, 0.5, 0, 0, 0, 0, 0, 0, 0, 0, 0, 0, 0, 0, 0, 0, 0, 0],
    [0, 0, 0, 0, 0.1, 1.0, 0, 0, 0.8, 0, 0, 0.5, 4.8, 0, 0, 0, 0, 2.5, 0, 0, 2.9, 0, 0, 0, 1.0, 0, 0, 4.8, 0, 0, 2.0],
    [0, 0, 0, 0, 0, 0.3, 1.8, 0, 0, 0, 3.0, 0, 0, 0, 2.0, 0, 0, 0, 3.7, 0, 0, 0, 3.5, 0, 0, 2.0, 0, 0, 0, 3.0, 0],
    [0, 0, 0, 0, 0, 2.0, 0, 1.2, 0, 0, 0.5, 0, 0, 0, 0, 0.5, 0, 0, 0, 0, 0, 1.5, 0, 0, 0, 0, 0, 0, 0, 0, 0],
    [0, 0, 0, 0, 0, 0, 0.5, 0, 0, 2.0, 0, 0, 0.5, 0, 0, 0, 1.5, 0, 3.5, 0, 0, 0, 0, 0, 0, 0, 3.8, 0, 0, 0, 3.0],
    [0, 0, 0, 0, 0, 1.2, 0, 0, 0.5, 0, 4.0, 0, 0, 2.0, 0, 0, 0, 0, 0, 0, 0.5, 0, 0, 0, 0, 1.8, 0, 0, 0, 0, 0],
    [0, 0, 0, 0, 0, 0, 0.8, 0, 0, 0, 1.5, 0, 0, 0, 0, 0.5, 0, 5.0, 0, 0, 0, 0, 0, 2.0, 0, 0, 0, 0, 4.5, 0, 0],
    [0, 0, 0, 0, 0, 0, 0, 0, 0, 0, 0, 0, 0, 0, 0, 0, 0, 0.3, 0, 0, 0, 0, 0, 0, 0, 0, 0, 0, 0, 0, 0],
    [0, 0, 0, 0, 0, 0.8, 1.2, 0, 0, 0, 0.5, 0.3, 0, 0, 0, 0, 0, 0, 0, 2.0, 0, 0, 0, 0, 0, 0, 0, 0, 0, 2.5, 0],
    [0, 0, 0, 0, 0, 1.0, 0.5, 0.8, 0, 0.5, 2.5, 0, 0, 1.0, 0, 1.5, 0, 3.0, 0, 1.5, 0, 2.5, 0, 1.0, 3.0, 0, 1.5, 0, 2.0, 0, 1.0],
    [0, 0, 0, 0, 0, 0.6, 1.5, 0, 0.5, 0, 1.2, 0.5, 0, 0, 3.0, 0, 0.8, 0, 1.5, 0, 2.0, 0, 0, 3.5, 0, 1.0, 0, 2.0, 0, 4.0, 0],
    [0, 0, 0, 0, 0, 0.3, 0, 0.8, 0, 0.6, 0, 2.0, 0, 0, 0, 1.2, 0, 2.0, 0, 0, 1.0, 0, 3.0, 0, 0, 2.5, 0, 0, 3.5, 0, 0.5],
    [0, 0, 0, 0, 0, 0, 1.0, 0, 0, 0, 3.5, 0, 1.5, 0, 0, 0, 4.0, 0, 0, 2.0, 0, 0, 0, 1.5, 0, 0, 2.0, 0, 0, 1.0, 0],
    [0, 0, 0, 0, 0, 0.4, 0, 0, 0.3, 0, 0.8, 0, 0, 0, 0, 0, 0, 0, 1.0, 0, 0, 0.5, 0, 0, 0, 0, 0, 0, 0.5, 0, 0],
    [0, 0, 0, 0, 0, 0, 0.6, 0.5, 0, 1.0, 0, 0, 0, 0.8, 0, 0, 2.0, 0, 0, 0, 0, 2.5, 0, 0, 1.5, 0, 0, 0, 0, 2.0, 0],
]

# threshold lines per panel
precip_levels = [15]
wind_levels = [10.8, 13.9, 17.2]
gust_levels = [20, 25]
gust_alarm = [28.5]
temp_levels = [0]
snow_alarm = [5]

panels = [
    dict(members=precip_members, control=precip_control, oper=precip_oper, mean=precip_mean,
         yrange=[0, 20], dtick=5, unit="mm", name="Neerslag/6 uur",
         refs=[(v, "black", "1px,2px", 1) for v in precip_levels]),
    dict(members=accum_members, control=accum_control, oper=accum_oper, mean=accum_mean,
         yrange=[0, 100], dtick=20, unit="mm", name="Accum Neerslag", refs=[]),
    dict(members=wind_members, control=wind_control, oper=wind_oper, mean=wind_mean,
         yrange=[0, 20], dtick=5, unit="m/s", name="10m wind",
         refs=[(v, "black", "1px,2px", 1) for v in wind_levels]),
    dict(members=gust_members, control=gust_control, oper=gust_oper, mean=gust_mean,
         yrange=[0, 30], dtick=5, unit="m/s", name="Windstoten",
         refs=[(v, "black", "1px,2px", 1) for v in gust_levels]
         + [(v, "#ff00ff", "6px,3px", 1.5) for v in gust_alarm]),
    dict(members=temp_members, control=temp_control, oper=temp_oper, mean=temp_mean,
         yrange=[-20, 15], dtick=5, unit="Celsius", name="T2m",
         refs=[(v, "black", "solid", 3) for v in temp_levels]),
    dict(members=snow_members, control=snow_control, oper=snow_oper, mean=snow_mean,
         yrange=[0, 10], dtick=2, unit="cm", name="Sneeuwval/6 uur",
         refs=[(v, "#ff00ff", "6px,3px", 1.5) for v in snow_alarm]),
]

for p in panels:
    assert all(len(m) == len(lead_members) for m in p["members"])
    assert len(p["control"]) == len(p["mean"]) == len(lead_6h)
    assert len(p["oper"]) == len(lead_oper)

GREEN = "rgba(115,175,55,0.85)"
BLUE = "#0000ff"
RED = "#ff0000"
BROWN = "#800000"

# plot-area pixel boxes
cols = [(32.3, 358.3), (420.3, 746.3)]
rows = [(17.7, 155.7), (202.0, 340.3), (385.7, 524.7)]


def fx(x):
    return x / W


def fy(y):
    return 1 - y / H


def ax_id(letter, n):
    return letter if n == 1 else f"{letter}{n}"


def label(text, x, y, size, **kw):
    return dict(text=text, x=fx(x), y=fy(y), xref="paper", yref="paper", showarrow=False,
                xanchor=kw.pop("xanchor", "center"), yanchor="middle",
                font=dict(size=size, color=kw.pop("color", "black")), **kw)


fig = go.Figure()
layout = dict(width=W, height=H, margin=dict(l=0, r=0, t=0, b=0, pad=0), autosize=False,
              paper_bgcolor="white", plot_bgcolor="white", showlegend=False,
              font=dict(family=FONT, color="black"))
annotations = []
shapes = []

for k, p in enumerate(panels):
    n = k + 1
    r, c = divmod(k, 2)
    x0, x1 = cols[c]
    y0, y1 = rows[r]
    xa, ya, yr = ax_id("x", n), ax_id("y", n), ax_id("y", n + 6)

    for m in p["members"]:
        fig.add_trace(go.Scatter(x=lead_members, y=m, mode="lines", xaxis=xa, yaxis=ya,
                                 line=dict(color=GREEN, width=1), hoverinfo="skip"))
    fig.add_trace(go.Scatter(x=lead_6h, y=p["control"], mode="lines", xaxis=xa, yaxis=ya,
                             line=dict(color=BLUE, width=1.5, dash="4px,2px")))
    fig.add_trace(go.Scatter(x=lead_oper, y=p["oper"], mode="lines", xaxis=xa, yaxis=ya,
                             line=dict(color=RED, width=1.5)))
    fig.add_trace(go.Scatter(x=lead_6h, y=p["mean"], mode="lines", xaxis=xa, yaxis=ya,
                             line=dict(color=BROWN, width=3, dash="3px,2px")))
    # threshold lines on the right-hand axis
    fig.add_trace(go.Scatter(x=[None], y=[None], xaxis=xa, yaxis=yr))
    for lev, col, dash, lw in p["refs"]:
        fig.add_trace(go.Scatter(x=[0, 15], y=[lev, lev], mode="lines", xaxis=xa, yaxis=yr,
                                 line=dict(color=col, width=lw, dash=dash), hoverinfo="skip"))

    layout[ax_id("xaxis", n)] = dict(
        domain=[fx(x0), fx(x1)], range=[0, 15], anchor=ya,
        tickvals=[d + 0.5 for d in range(15)], ticktext=day_names, ticks="",
        tickfont=dict(size=8.5), showgrid=False, zeroline=False,
        showline=True, linecolor="black", linewidth=1, fixedrange=True)
    layout[ax_id("yaxis", n)] = dict(
        domain=[fy(y1), fy(y0)], range=p["yrange"], dtick=p["dtick"], anchor=xa,
        ticks="outside", ticklen=3, tickfont=dict(size=9), showgrid=False, zeroline=False,
        showline=True, linecolor="black", linewidth=1, fixedrange=True)
    layout[ax_id("yaxis", n + 6)] = dict(
        overlaying=ya, side="right", anchor=xa, range=p["yrange"], dtick=p["dtick"],
        ticks="outside", ticklen=3, tickfont=dict(size=9), showgrid=False, zeroline=False,
        showline=True, linecolor="#555555", linewidth=2, fixedrange=True)

    cx = (x0 + x1) / 2
    annotations += [
        label(run_title, cx, y0 - 10, 11),
        label(station, x1 - 34, y0 + 6.3, 10),
        label(p["name"], x1 - 39, y0 + 16.3, 10),
        label("<b>Dag</b>", cx, y1 + 19.5, 11.5),
        label("<b>" + source + "</b>", x1 - 17, y1 + 18.5, 7, color=BLUE),
        label("<b>" + p["unit"] + "</b>", x0 - 21, (y0 + y1) / 2, 12, textangle=-90),
    ]
    for d in range(16):
        annotations.append(dict(text="00", x=d, y=0, xref=xa, yref=ya + " domain",
                                xanchor="center", yanchor="middle", yshift=-4.5,
                                showarrow=False, textangle=90, font=dict(size=6)))
    # hand-drawn legend
    for j, (lab, col, dash, lw) in enumerate(zip(legend_names, [BLUE, RED, BROWN],
                                                  ["4px,2px", "solid", "3px,2px"], [1.5, 1.5, 3])):
        yy = y0 + 7.6 + 6.5 * j
        shapes.append(dict(type="line", xref="paper", yref="paper", x0=fx(x0 + 3), x1=fx(x0 + 25),
                           y0=fy(yy), y1=fy(yy), line=dict(color=col, width=lw, dash=dash)))
        annotations.append(label(lab, x0 + 48, yy, 7))

# blue panel frames
frame = dict(color="#3333ff", width=1.5)
shapes += [
    dict(type="rect", xref="paper", yref="paper", x0=fx(1), x1=fx(777), y0=fy(1), y1=fy(552), line=frame),
    dict(type="line", xref="paper", yref="paper", x0=fx(388.5), x1=fx(388.5), y0=fy(1), y1=fy(552), line=frame),
    dict(type="line", xref="paper", yref="paper", x0=fx(1), x1=fx(777), y0=fy(184), y1=fy(184), line=frame),
    dict(type="line", xref="paper", yref="paper", x0=fx(1), x1=fx(777), y0=fy(368), y1=fy(368), line=frame),
]

layout["annotations"] = annotations
layout["shapes"] = shapes
fig.update_layout(**layout)
fig.write_html("out.html", config={"displayModeBar": False},
               post_script="document.body.style.margin = '0';")
